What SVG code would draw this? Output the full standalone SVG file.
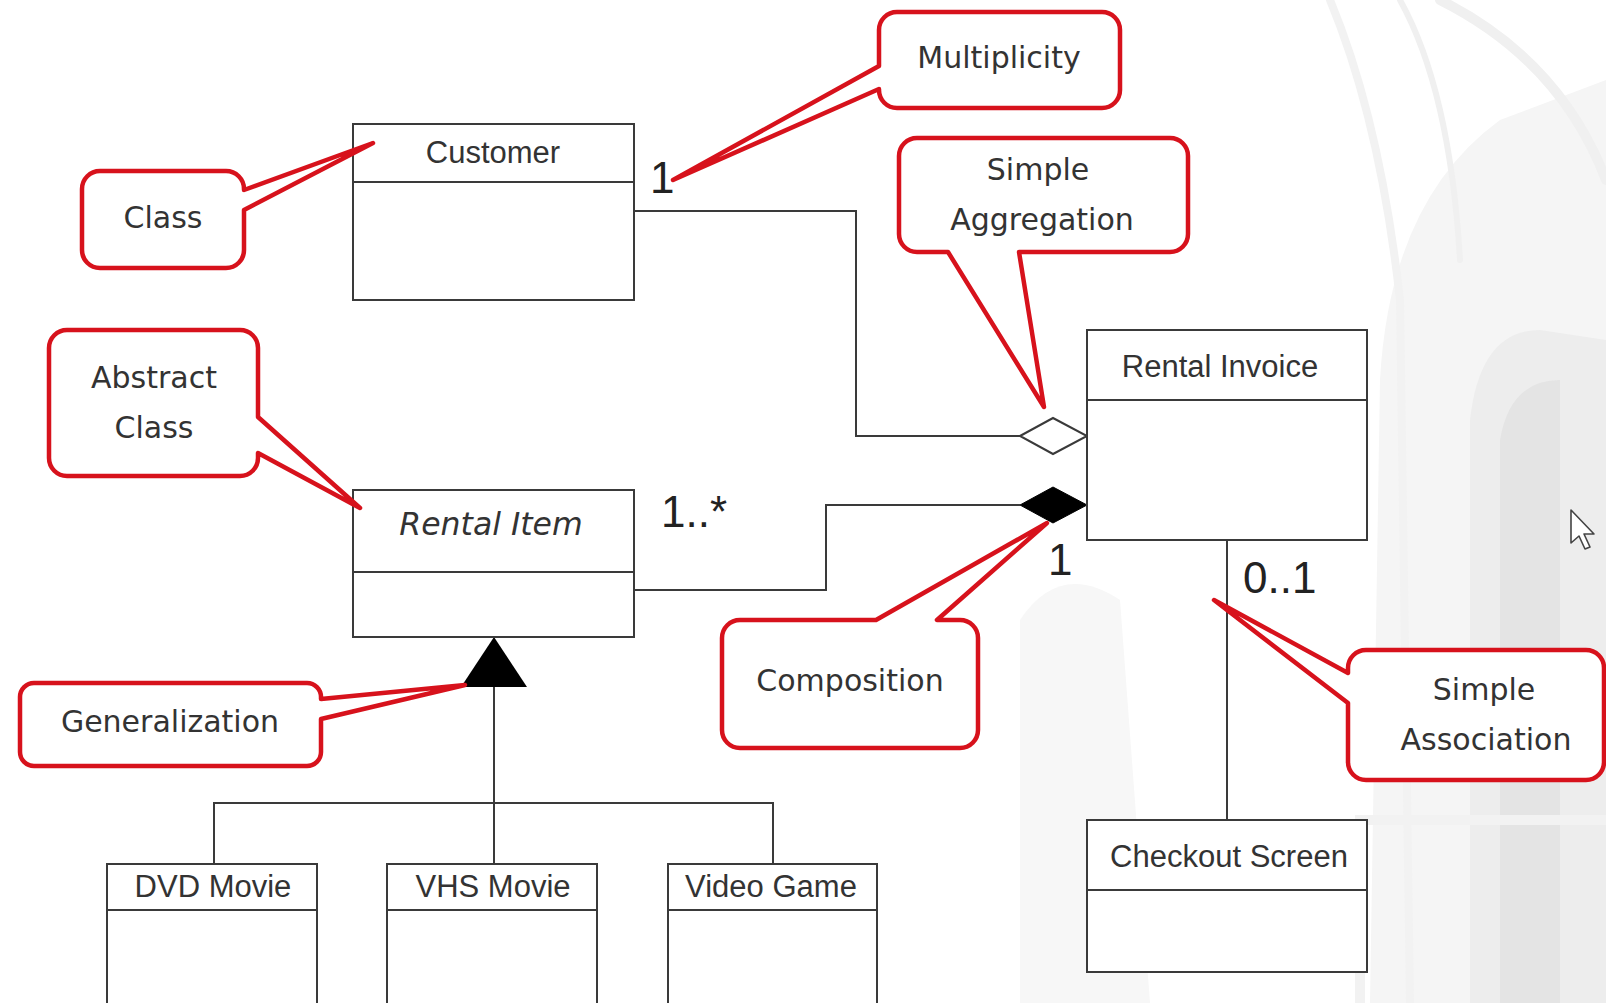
<svg xmlns="http://www.w3.org/2000/svg" width="1606" height="1003" viewBox="0 0 1606 1003">
  <style>
    .cls { fill: #ffffff; stroke: #3a3a3a; stroke-width: 2; }
    .div { stroke: #3a3a3a; stroke-width: 2; fill: none; }
    .name { font-family: "Liberation Sans", Arial, sans-serif; font-size: 31px; fill: #333333; text-anchor: middle; }
    .abstract { font-family: "DejaVu Sans", sans-serif; font-style: italic; font-size: 31.5px; fill: #333333; text-anchor: middle; }
    .mult { font-family: "Liberation Sans", Arial, sans-serif; font-size: 44px; fill: #222222; }
    .wire { fill: none; stroke: #3a3a3a; stroke-width: 2; }
    .note { fill: #ffffff; stroke: #d7121c; stroke-width: 4.5; stroke-linejoin: round; }
    .note-text { font-family: "DejaVu Sans", Verdana, sans-serif; font-size: 30px; fill: #333333; text-anchor: middle; }
  </style>

  <!-- page background with faint cathedral watermark -->
  <rect width="1606" height="1003" fill="#ffffff"/>
  <g id="backdrop" fill="none" stroke-linecap="round">
    <path d="M1020,1003 L1020,620 Q1060,560 1120,600 L1150,1003 Z" fill="#f7f7f7" stroke="none"/>
    <path d="M1370,1003 L1380,380 Q1390,200 1500,120 L1606,80 L1606,1003 Z" fill="#f5f5f5" stroke="none"/>
    <path d="M1470,1003 L1470,420 Q1480,330 1540,330 L1606,340 L1606,1003 Z" fill="#ededed" stroke="none"/>
    <path d="M1500,1003 L1500,440 Q1510,380 1560,380 L1560,1003 Z" fill="#e4e4e4" stroke="none"/>
    <path d="M1330,0 Q1380,120 1400,300 L1410,1003" stroke="#f2f2f2" stroke-width="8"/>
    <path d="M1400,0 Q1450,90 1460,260" stroke="#f0f0f0" stroke-width="6"/>
    <path d="M1440,0 Q1560,60 1606,180" stroke="#f0f0f0" stroke-width="10"/>
    <path d="M1360,1003 L1360,820 L1606,820" stroke="#f2f2f2" stroke-width="10"/>
  </g>

  <!-- associations, aggregation, composition and generalization lines -->
  <g id="connectors">
    <polyline class="wire" points="634,211 856,211 856,436 1020,436"/>
    <polygon points="1020,436 1053,418 1087,436 1053,454" fill="#ffffff" stroke="#3a3a3a" stroke-width="2"/>
    <polyline class="wire" points="634,590 826,590 826,505 1020,505"/>
    <polygon points="1020,505 1053,487 1087,505 1053,523" fill="#000000" stroke="#000000" stroke-width="1"/>
    <line class="wire" x1="1227" y1="540" x2="1227" y2="820"/>
    <line class="wire" x1="494" y1="687" x2="494" y2="864"/>
    <polyline class="wire" points="214,864 214,803 773,803 773,864"/>
    <polygon points="494,637 527,687 461,687" fill="#000000"/>
  </g>

  <!-- multiplicities -->
  <g id="multiplicities">
    <text class="mult" x="650" y="193">1</text>
    <text class="mult" x="661" y="527">1..*</text>
    <text class="mult" x="1048" y="575">1</text>
    <text class="mult" x="1243" y="593">0..1</text>
  </g>

  <!-- classes -->
  <g id="customer">
    <rect class="cls" x="353" y="124" width="281" height="176"/>
    <line class="div" x1="353" y1="182" x2="634" y2="182"/>
    <text class="name" x="493" y="163">Customer</text>
  </g>
  <g id="rental-item">
    <rect class="cls" x="353" y="490" width="281" height="147"/>
    <line class="div" x1="353" y1="572" x2="634" y2="572"/>
    <text class="abstract" x="491" y="535">Rental Item</text>
  </g>
  <g id="rental-invoice">
    <rect class="cls" x="1087" y="330" width="280" height="210"/>
    <line class="div" x1="1087" y1="400" x2="1367" y2="400"/>
    <text class="name" x="1220" y="377">Rental Invoice</text>
  </g>
  <g id="checkout-screen">
    <rect class="cls" x="1087" y="820" width="280" height="152"/>
    <line class="div" x1="1087" y1="890" x2="1367" y2="890"/>
    <text class="name" x="1229" y="867">Checkout Screen</text>
  </g>
  <g id="dvd-movie">
    <rect class="cls" x="107" y="864" width="210" height="150"/>
    <line class="div" x1="107" y1="910" x2="317" y2="910"/>
    <text class="name" x="213" y="897">DVD Movie</text>
  </g>
  <g id="vhs-movie">
    <rect class="cls" x="387" y="864" width="210" height="150"/>
    <line class="div" x1="387" y1="910" x2="597" y2="910"/>
    <text class="name" x="493" y="897">VHS Movie</text>
  </g>
  <g id="video-game">
    <rect class="cls" x="668" y="864" width="209" height="150"/>
    <line class="div" x1="668" y1="910" x2="877" y2="910"/>
    <text class="name" x="771" y="897">Video Game</text>
  </g>

  <!-- callouts -->
  <g id="note-class">
    <path class="note" d="M100,171 H226 A18 18 0 0 1 244,189 V190 L373,143 L244,210 V250 A18 18 0 0 1 226,268 H100 A18 18 0 0 1 82,250 V189 A18 18 0 0 1 100,171 Z"/>
    <text class="note-text" x="163" y="228">Class</text>
  </g>
  <g id="note-multiplicity">
    <path class="note" d="M897,12 H1102 A18 18 0 0 1 1120,30 V90 A18 18 0 0 1 1102,108 H897 A18 18 0 0 1 879,90 V89 L673,180 L879,66 V30 A18 18 0 0 1 897,12 Z"/>
    <text class="note-text" x="999" y="68">Multiplicity</text>
  </g>
  <g id="note-aggregation">
    <path class="note" d="M917,138 H1170 A18 18 0 0 1 1188,156 V234 A18 18 0 0 1 1170,252 H1019 L1044,407 L948,252 H917 A18 18 0 0 1 899,234 V156 A18 18 0 0 1 917,138 Z"/>
    <text class="note-text" x="1038" y="180">Simple</text>
    <text class="note-text" x="1042" y="230">Aggregation</text>
  </g>
  <g id="note-abstract">
    <path class="note" d="M67,330 H240 A18 18 0 0 1 258,348 V417 L360,508 L258,453 V458 A18 18 0 0 1 240,476 H67 A18 18 0 0 1 49,458 V348 A18 18 0 0 1 67,330 Z"/>
    <text class="note-text" x="154" y="388">Abstract</text>
    <text class="note-text" x="154" y="438">Class</text>
  </g>
  <g id="note-generalization">
    <path class="note" d="M34,683 H307 A14 14 0 0 1 321,697 V699 L465,685 L321,719 V752 A14 14 0 0 1 307,766 H34 A14 14 0 0 1 20,752 V697 A14 14 0 0 1 34,683 Z"/>
    <text class="note-text" x="170" y="732">Generalization</text>
  </g>
  <g id="note-composition">
    <path class="note" d="M740,620 H876 L1047,523 L937,620 H960 A18 18 0 0 1 978,638 V730 A18 18 0 0 1 960,748 H740 A18 18 0 0 1 722,730 V638 A18 18 0 0 1 740,620 Z"/>
    <text class="note-text" x="850" y="691">Composition</text>
  </g>
  <g id="note-association">
    <path class="note" d="M1366,650 H1586 A18 18 0 0 1 1604,668 V762 A18 18 0 0 1 1586,780 H1366 A18 18 0 0 1 1348,762 V703 L1214,600 L1348,673 V668 A18 18 0 0 1 1366,650 Z"/>
    <text class="note-text" x="1484" y="700">Simple</text>
    <text class="note-text" x="1486" y="750">Association</text>
  </g>

  <!-- mouse pointer -->
  <path d="M1571,510 L1571,543 L1579,536 L1585,549 L1590,547 L1584,534 L1594,534 Z" fill="#ffffff" stroke="#444444" stroke-width="1.6" stroke-linejoin="round"/>
</svg>
